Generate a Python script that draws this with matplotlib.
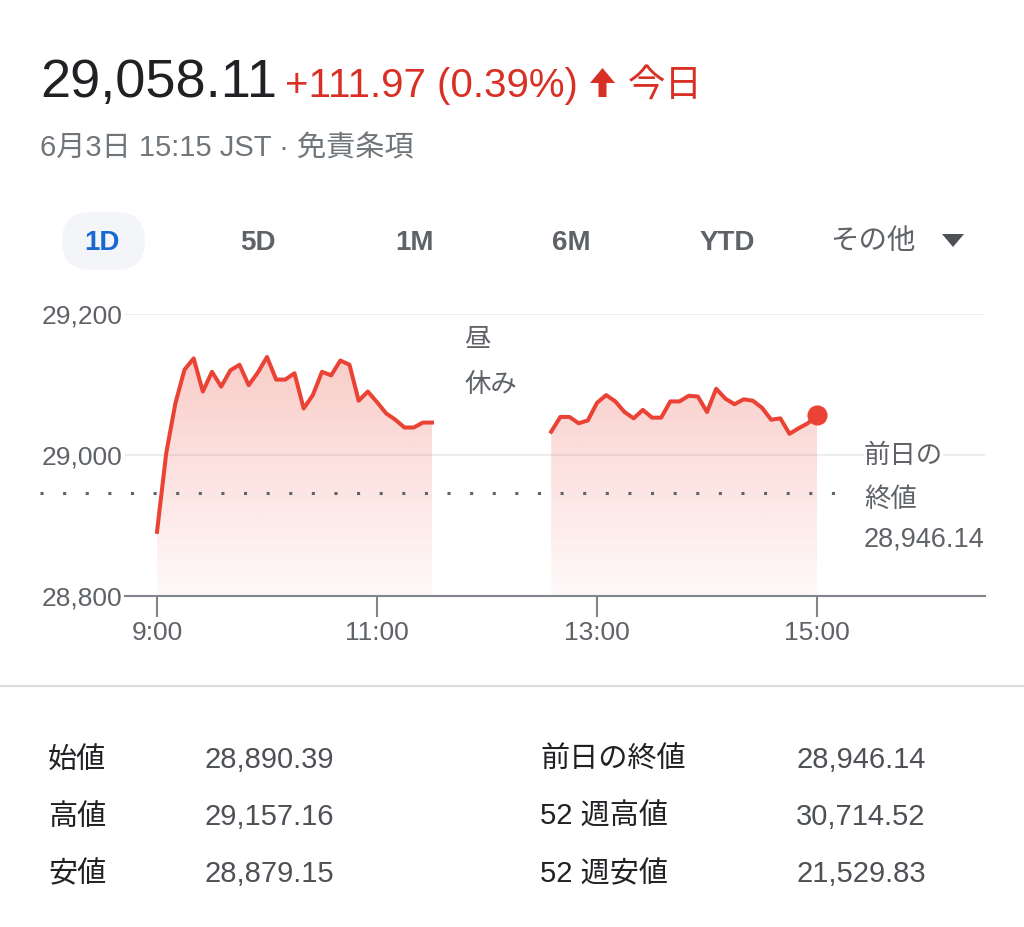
import numpy as np
import pandas as pd
import matplotlib
matplotlib.use('Agg')
import matplotlib.pyplot as plt
from matplotlib.patches import FancyBboxPatch, Polygon

plt.rcParams['font.family'] = ['Liberation Sans', 'Noto Sans CJK JP']

# 前場 9:00-11:30, 5分ごと
am_values = [28891, 29002, 29073, 29121, 29137, 29090, 29118, 29097, 29120, 29128,
             29099, 29117, 29139, 29107, 29107, 29116, 29066, 29085, 29118, 29113,
             29134, 29128, 29077, 29090, 29075, 29059, 29050, 29039, 29039, 29046,
             29046]
# 後場 12:35-15:00, 5分ごと
pm_values = [29033, 29054, 29054, 29045, 29049, 29074, 29085, 29076, 29061, 29052,
             29064, 29053, 29053, 29076, 29076, 29084, 29083, 29061, 29094, 29080,
             29072, 29079, 29077, 29067, 29050, 29052, 29030, 29038, 29045, 29057]
prev_close = 28946.14

yticks = [28800, 29000, 29200]
xticks = [9, 11, 13, 15]
xticklabels = ['9:00', '11:00', '13:00', '15:00']

tabs = ['1D', '5D', '1M', '6M', 'YTD']
stats_left = [('始値', '28,890.39'), ('高値', '29,157.16'), ('安値', '28,879.15')]
stats_right = [('前日の終値', '28,946.14'), ('52 週高値', '30,714.52'), ('52 週安値', '21,529.83')]

am_times = pd.date_range('2021-06-03 09:00', periods=len(am_values), freq='5min')
pm_times = pd.date_range('2021-06-03 12:35', periods=len(pm_values), freq='5min')
am_h = np.array(am_times.hour + am_times.minute / 60)
pm_h = np.array(pm_times.hour + pm_times.minute / 60)

red = '#ea4335'
gray = '#5f6368'

W, H = 1024, 927
fig = plt.figure(figsize=(W / 100, H / 100), dpi=100)

# 画面全体 (ピクセル座標) のレイヤー
ov = fig.add_axes([0, 0, 1, 1])
ov.set_xlim(0, W)
ov.set_ylim(H, 0)
ov.axis('off')

ov.text(40, 97, '29,058.11', fontsize=39, color='#202124', va='baseline')
ov.text(285, 97, '+111.97 (0.39%)', fontsize=29, color='#d93025', va='baseline')
ov.add_patch(Polygon([(590, 83), (602.5, 68), (615, 83), (606.5, 83), (606.5, 97),
                      (598.5, 97), (598.5, 83)], closed=True, color='#d93025', lw=0))
ov.text(628, 96, '今日', fontsize=27, color='#d93025', va='baseline')
ov.text(40, 156, '6月3日 15:15 JST · 免責条項', fontsize=21, color='#70757a', va='baseline')

# タブ
ov.add_patch(FancyBboxPatch((62, 212), 83, 58, boxstyle='round,pad=0,rounding_size=29',
                            color='#f3f5f9', lw=0))
for i, t in enumerate(tabs):
    ov.text(102 + i * 156.3, 250, t, fontsize=20, fontweight='bold', ha='center',
            va='baseline', color='#1967d2' if i == 0 else gray)
ov.text(873, 249, 'その他', fontsize=20.5, ha='center', va='baseline', color=gray)
ov.add_patch(Polygon([(942, 234), (964, 234), (953, 247)], closed=True, color='#4d5156', lw=0))

ov.plot([0, W], [686, 686], color='#dadce0', lw=1.5)

for i, (lab, val) in enumerate(stats_left):
    ov.text(48, 768 + i * 57, lab, fontsize=21, color='#202124', va='baseline')
    ov.text(204, 768 + i * 57, val, fontsize=21, color='#4d5156', va='baseline')
for i, (lab, val) in enumerate(stats_right):
    ov.text(540, 768 + i * 57, lab, fontsize=21, color='#202124', va='baseline')
    ov.text(796, 768 + i * 57, val, fontsize=21, color='#4d5156', va='baseline')

ov.text(464, 340, '昼', fontsize=19, color=gray, va='center')
ov.text(464, 385, '休み', fontsize=19, color=gray, va='center')

# チャート
ax = fig.add_axes([125 / W, (H - 596) / H, 860 / W, 282 / H])
ax.set_facecolor('none')

grad = np.zeros((256, 1, 4))
grad[..., :3] = matplotlib.colors.to_rgb(red)
grad[:, 0, 3] = np.linspace(0.03, 0.27, 256)
for h, v in [(am_h, am_values), (pm_h, pm_values)]:
    poly = ax.fill_between(h, v, yticks[0], facecolor='none', edgecolor='none')
    im = ax.imshow(grad, extent=[h[0], h[-1], yticks[0], 29140], origin='lower',
                   aspect='auto', zorder=1)
    im.set_clip_path(poly.get_paths()[0], transform=ax.transData)
    ax.plot(h, v, color=red, lw=2.9, zorder=3)

ax.plot(pm_h[-1], pm_values[-1], 'o', ms=13.5, color=red, zorder=5, clip_on=False)

ax.axhline(prev_close, xmin=-0.099, xmax=0.838, color=gray, lw=2.2,
           linestyle=(0, (1, 6.4)), clip_on=False, zorder=2)

ax.set_xlim(9 - 32 / 110, 9 + 828 / 110)
ax.set_ylim(yticks[0], yticks[-1])
ax.set_yticks(yticks)
ax.set_yticklabels([f'{v:,}' for v in yticks])
ax.set_xticks(xticks)
ax.set_xticklabels(xticklabels)
ax.yaxis.grid(True, color='#e8eaed', lw=1.2)
ax.set_axisbelow(True)
for s in ['top', 'right', 'left']:
    ax.spines[s].set_visible(False)
ax.spines['bottom'].set_color('#80868b')
ax.spines['bottom'].set_linewidth(1.5)
ax.tick_params(axis='y', length=0, pad=2, labelsize=19, labelcolor=gray)
ax.tick_params(axis='x', length=15, width=1.5, color='#80868b', pad=3, labelsize=19,
               labelcolor=gray)

ax.text(864, 456, '前日の', fontsize=19, color=gray, va='center', transform=ov.transData,
        bbox=dict(facecolor='white', edgecolor='none', pad=0))
ax.text(864, 500, '終値', fontsize=19, color=gray, va='center', transform=ov.transData)
ax.text(864, 540, f'{prev_close:,.2f}', fontsize=19.5, color=gray, va='center',
        transform=ov.transData)

fig.savefig('out.png', dpi=100, facecolor='white')
